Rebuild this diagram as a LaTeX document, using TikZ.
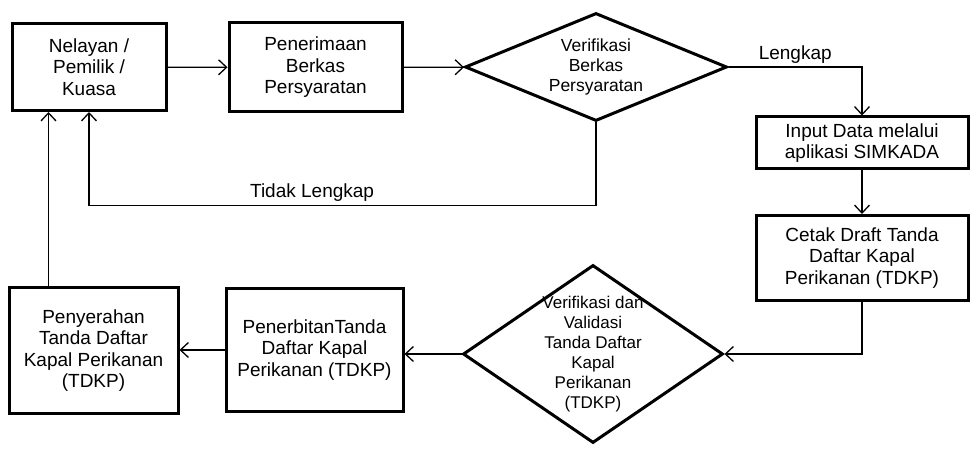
\documentclass[tikz,border=0pt]{standalone}
\usepackage{fontspec}
\setmainfont{Liberation Sans}
\usepackage{tikz}
\usetikzlibrary{
  arrows.meta,
  calc,
  shapes.geometric
}
\tikzset{
  flow/.style={
    ->,
    >={Straight Barb[length=8pt,width=15pt]},
    line width=1.3pt},
  stepbox/.style={
    draw,
    line width=3pt,
    inner sep=0pt,
    align=center,
    font=\fontsize{19}{21.5}\selectfont},
  decision/.style={
    draw,
    diamond,
    line width=3pt,
    inner sep=0pt},
  dtext/.style={
    align=center,
    font=\fontsize{17.5}{20}\selectfont}
  }

\begin{document}
\begin{tikzpicture}[x=1pt,y=-1pt]
  \useasboundingbox (0,0) rectangle (980,462);
  \node[stepbox, minimum width=154pt, minimum height=87pt] (nelayan) at (89,67)
    {Nelayan /\\Pemilik /\\Kuasa};
  \node[stepbox, minimum width=173pt, minimum height=89pt] (terima) at (315.5,67.5)
    {Penerimaan\\Berkas\\Persyaratan};
  \node[decision, minimum width=262pt, minimum height=108pt,
    label={[dtext]center:Verifikasi\\Berkas\\Persyaratan}] (verif) at (596,67) {};
  \node[stepbox, minimum width=212pt, minimum height=52pt] (input) at (862,143)
    {Input Data melalui\\aplikasi SIMKADA};
  \node[stepbox, minimum width=212pt, minimum height=85pt] (cetak) at (862,258)
    {Cetak Draft Tanda\\Daftar Kapal\\Perikanan (TDKP)};
  \node[decision, minimum width=260pt, minimum height=178pt,
    label={[dtext, font=\fontsize{17}{20}\selectfont]center:Verifikasi dan\\Validasi\\Tanda Daftar\\Kapal\\Perikanan\\(TDKP)}] (valid) at (593,354) {};
  \node[stepbox, minimum width=177pt, minimum height=122pt] (terbit) at (314.5,350)
    {PenerbitanTanda\\Daftar Kapal\\Perikanan (TDKP)};
  \node[stepbox, minimum width=169pt, minimum height=125pt] (serah) at (93.5,350.5)
    {Penyerahan\\Tanda Daftar\\Kapal Perikanan\\(TDKP)};
  \draw [flow]
    (nelayan) edge[] (terima)
    (terima) edge[] (verif)
    (input) edge[] (cetak);
  \draw [flow] (valid.west) -- (valid.west -| terbit.east);
  \draw [flow] (terbit.west) -- (terbit.west -| serah.east);
  \draw [flow] (verif.east) -- node[above, font=\fontsize{19}{21.5}\selectfont]{Lengkap}
    (verif.east -| input.north) -- (input.north);
  \draw [flow] (verif.south) -- ++(0,83)
    -| node[above, pos=0.28, font=\fontsize{19}{21.5}\selectfont]{Tidak Lengkap} (nelayan.south);
  \draw [flow] (cetak.south) |- (valid.east);
  \draw [flow] ([xshift=41pt]serah.north west) -- ([xshift=41pt]serah.north west |- nelayan.south);
\end{tikzpicture}
\end{document}
